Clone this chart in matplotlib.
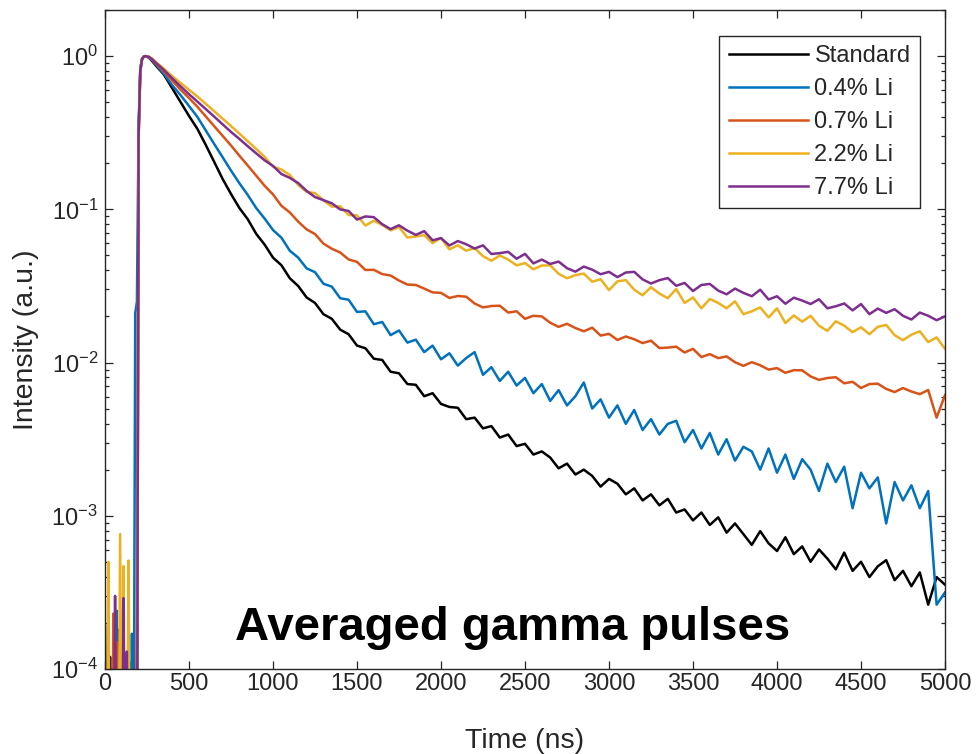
import matplotlib
matplotlib.use("Agg")
import matplotlib.pyplot as plt
from matplotlib.ticker import LogLocator, FixedLocator, NullFormatter

plt.rcParams["font.family"] = ["Liberation Sans", "DejaVu Sans"]
plt.rcParams["axes.unicode_minus"] = False
plt.rcParams["mathtext.default"] = "regular"

# Sample times (ns): pre-trigger baseline, rising edge, then the decay tail
time_ns = list(range(0, 250, 10)) + [260, 280, 300] + list(range(350, 5001, 50))

F = 1e-5  # baseline samples that fall below the plotted range

standard = [
    1.9e-4, F, F, 1.2e-4, F, F, F, F, 1.8e-4, F,
    F, F, F, F, F, 1.1e-4, F, F, F, F,
    0.30, 0.80, 0.95, 0.99, 1.0, 0.98, 0.93, 0.875,
    0.759, 0.617, 0.501, 0.407, 0.335, 0.263, 0.204, 0.158, 0.126, 0.102,
    0.0861, 0.0692, 0.0589, 0.0484, 0.0432, 0.0355, 0.0316, 0.0266, 0.0245, 0.0207,
    0.0193, 0.0164, 0.0153, 0.0129, 0.0124, 0.0106, 0.0104, 0.00871, 0.00851, 0.00724,
    0.00716, 0.00603, 0.00631, 0.00537, 0.00513, 0.00507, 0.00427, 0.00437, 0.00372, 0.00385,
    0.00324, 0.00339, 0.00285, 0.00295, 0.00251, 0.00263, 0.0024, 0.00204, 0.00219, 0.00186,
    0.0020, 0.00182, 0.00155, 0.00174, 0.00162, 0.00138, 0.00151, 0.00126, 0.00138, 0.00117,
    0.00129, 0.00105, 0.0011, 0.000933, 0.00105, 0.000871, 0.000977, 0.000776, 0.000891, 0.000759,
    0.000646, 0.000794, 0.000661, 0.000589, 0.000724, 0.000562, 0.000631, 0.000501, 0.000603, 0.000525,
    0.000447, 0.000575, 0.000437, 0.000501, 0.000398, 0.000468, 0.000513, 0.00038, 0.000437, 0.000347,
    0.000427, 0.000263, 0.000398, 0.000355,
]

li_04 = [
    F, F, F, F, F, F, F, 2.4e-4, F, F,
    F, F, F, F, F, F, 1.7e-4, F, 0.021, 0.025,
    0.35, 0.82, 0.96, 0.995, 1.0, 0.98, 0.94, 0.89,
    0.767, 0.646, 0.556, 0.473, 0.401, 0.327, 0.267, 0.219, 0.179, 0.148,
    0.124, 0.102, 0.0871, 0.0733, 0.0653, 0.0537, 0.0484, 0.0412, 0.0389, 0.0327,
    0.0313, 0.0263, 0.0257, 0.0214, 0.0216, 0.0178, 0.0184, 0.0151, 0.0162, 0.0135,
    0.0141, 0.0117, 0.0129, 0.0105, 0.0115, 0.00955, 0.0107, 0.0117, 0.00832, 0.00933,
    0.00759, 0.00871, 0.00708, 0.00794, 0.00631, 0.00724, 0.00562, 0.00661, 0.00525, 0.00603,
    0.00741, 0.00501, 0.00575, 0.00437, 0.00525, 0.00398, 0.0049, 0.00363, 0.00427, 0.00339,
    0.00398, 0.00417, 0.00302, 0.00363, 0.00275, 0.00347, 0.00251, 0.00316, 0.00229, 0.00282,
    0.00263, 0.0020, 0.00275, 0.00191, 0.00251, 0.00174, 0.00234, 0.0020, 0.00145, 0.00219,
    0.00166, 0.00209, 0.00112, 0.00191, 0.00151, 0.00178, 0.000891, 0.00166, 0.00126, 0.00158,
    0.00112, 0.00145, 0.000263, 0.000316,
]

li_07 = [
    F, F, F, F, F, 2.3e-4, F, 1.5e-4, F, F,
    F, 1.9e-4, F, F, F, F, F, F, F, 2.8e-4,
    0.32, 0.82, 0.96, 0.995, 1.0, 0.985, 0.95, 0.90,
    0.794, 0.692, 0.603, 0.533, 0.467, 0.404, 0.349, 0.302, 0.261, 0.224,
    0.193, 0.166, 0.1425, 0.1252, 0.1055, 0.0955, 0.0831, 0.0740, 0.0690, 0.0598,
    0.0553, 0.0523, 0.0471, 0.0454, 0.0402, 0.0403, 0.0378, 0.0370, 0.0343, 0.0323,
    0.0321, 0.0304, 0.0287, 0.0285, 0.0264, 0.0272, 0.0269, 0.0243, 0.0229, 0.0234,
    0.0235, 0.0212, 0.0216, 0.0193, 0.0202, 0.0200, 0.0182, 0.0171, 0.0179, 0.0168,
    0.0160, 0.0169, 0.0150, 0.0154, 0.01405, 0.0148, 0.0142, 0.0134, 0.0139, 0.01243,
    0.01252, 0.0127, 0.01163, 0.01229, 0.01086, 0.01135, 0.01069, 0.01097, 0.01005, 0.00952,
    0.01006, 0.0096, 0.0090, 0.0092, 0.00857, 0.00892, 0.0089, 0.00812, 0.00771, 0.00793,
    0.00802, 0.00732, 0.00749, 0.00682, 0.00724, 0.00728, 0.00673, 0.00642, 0.00682, 0.00647,
    0.00622, 0.00662, 0.00437, 0.00613,
]

li_22 = [
    F, F, 5.0e-4, F, F, F, F, F, F, 7.6e-4,
    F, 4.7e-4, F, F, 5.1e-4, F, F, F, F, F,
    0.28, 0.78, 0.95, 0.99, 1.0, 0.995, 0.965, 0.92,
    0.828, 0.741, 0.668, 0.603, 0.545, 0.488, 0.437, 0.391, 0.350, 0.312,
    0.278, 0.248, 0.220, 0.190, 0.182, 0.1675, 0.1445, 0.130, 0.1276, 0.1146,
    0.1042, 0.1047, 0.0918, 0.0913, 0.0784, 0.0842, 0.0791, 0.0729, 0.0766, 0.0655,
    0.0665, 0.0679, 0.0602, 0.0651, 0.0548, 0.0583, 0.0537, 0.0559, 0.0495, 0.0462,
    0.0500, 0.0470, 0.0431, 0.0446, 0.0406, 0.0430, 0.0431, 0.0380, 0.0355, 0.0372,
    0.0381, 0.0337, 0.0350, 0.0297, 0.0339, 0.0345, 0.0299, 0.0275, 0.0310, 0.0282,
    0.0263, 0.0302, 0.0245, 0.0266, 0.0226, 0.0260, 0.0245, 0.0226, 0.0251, 0.0207,
    0.0216, 0.0229, 0.0197, 0.0226, 0.0181, 0.0203, 0.0185, 0.0202, 0.0174, 0.0161,
    0.0186, 0.0174, 0.0158, 0.0170, 0.0153, 0.0171, 0.0176, 0.0151, 0.0140, 0.0152,
    0.0160, 0.0136, 0.0146, 0.0123,
]

li_77 = [
    F, F, F, F, F, F, 3.0e-4, F, F, F,
    F, 2.9e-4, F, 1.3e-4, F, F, F, F, F, F,
    0.30, 0.80, 0.95, 0.99, 1.0, 0.99, 0.955, 0.91,
    0.813, 0.716, 0.635, 0.564, 0.505, 0.451, 0.403, 0.359, 0.320, 0.288,
    0.258, 0.232, 0.209, 0.192, 0.170, 0.1605, 0.1484, 0.132, 0.1202, 0.1149,
    0.1095, 0.0999, 0.0976, 0.0857, 0.0899, 0.0889, 0.0800, 0.0743, 0.0787, 0.0726,
    0.0681, 0.0721, 0.0628, 0.0649, 0.0581, 0.0621, 0.0592, 0.0555, 0.0582, 0.0511,
    0.0518, 0.0528, 0.0476, 0.0512, 0.0444, 0.0470, 0.0440, 0.0456, 0.0413, 0.0392,
    0.0423, 0.0404, 0.0377, 0.0391, 0.0361, 0.0387, 0.0391, 0.0349, 0.0328, 0.0345,
    0.0356, 0.0317, 0.0331, 0.0293, 0.0321, 0.0326, 0.0295, 0.0279, 0.0304, 0.0285,
    0.0271, 0.0299, 0.0258, 0.0271, 0.0242, 0.0265, 0.0254, 0.0241, 0.0259, 0.0226,
    0.0233, 0.0243, 0.0219, 0.0241, 0.0207, 0.0225, 0.0211, 0.0223, 0.0202, 0.0191,
    0.0212, 0.0202, 0.0189, 0.0200,
]

series_labels = ["Standard", "0.4% Li", "0.7% Li", "2.2% Li", "7.7% Li"]
series_colors = ["#000000", "#0072BD", "#D95319", "#EDB120", "#7E2F8E"]

x_ticks = list(range(0, 5001, 500))
y_ticks = [1e-4, 1e-3, 1e-2, 1e-1, 1e0]

axis_color = "#262626"

fig = plt.figure(figsize=(9.77, 7.54), dpi=100)
ax = fig.add_axes([105 / 977, 1 - 669 / 754, 840 / 977, 659 / 754])

for values, label, color in zip([standard, li_04, li_07, li_22, li_77],
                                series_labels, series_colors):
    ax.plot(time_ns, values, color=color, lw=1.8, label=label)

ax.set_yscale("log")
ax.set_xlim(0, 5000)
ax.set_ylim(1e-4, 2)
ax.xaxis.set_major_locator(FixedLocator(x_ticks))
ax.yaxis.set_major_locator(FixedLocator(y_ticks))
ax.yaxis.set_minor_locator(LogLocator(base=10, subs=range(2, 10)))
ax.yaxis.set_minor_formatter(NullFormatter())

for side in ["left", "right", "top", "bottom"]:
    ax.spines[side].set_color(axis_color)
    ax.spines[side].set_linewidth(1.0)

ax.tick_params(which="both", direction="in", top=True, right=True,
               color=axis_color, labelcolor=axis_color, width=0.9)
ax.tick_params(which="major", length=6, labelsize=17)
ax.tick_params(which="minor", length=3)
ax.tick_params(axis="x", which="major", pad=3)
ax.tick_params(axis="y", which="major", pad=5)

ax.set_xlabel("Time (ns)", fontsize=20.5, color=axis_color, labelpad=24)
ax.set_ylabel("Intensity (a.u.)", fontsize=20.5, color=axis_color, labelpad=9)

leg = ax.legend(loc="upper right", bbox_to_anchor=((920 - 105) / 840, (669 - 36) / 659),
                borderaxespad=0, fancybox=False, framealpha=1, fontsize=17,
                handlelength=3.35, handletextpad=0.28, labelspacing=0.46,
                borderpad=0.4)
leg.get_frame().set_edgecolor(axis_color)
leg.get_frame().set_linewidth(1.0)
for text in leg.get_texts():
    text.set_color(axis_color)

ax.text(0.485, 0.044, "Averaged gamma pulses", transform=ax.transAxes,
        ha="center", va="baseline", fontsize=34, fontweight="bold", color="black")

fig.savefig("out.png", dpi=100)
